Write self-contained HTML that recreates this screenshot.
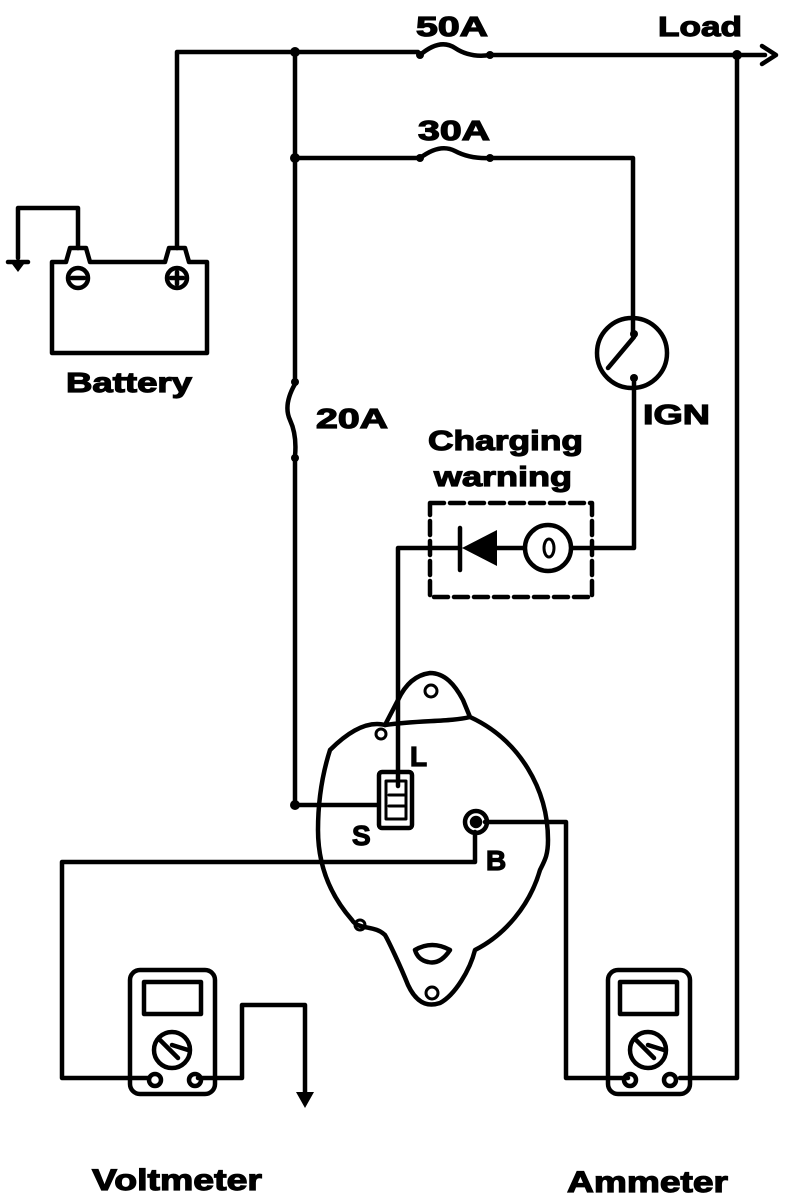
<!DOCTYPE html>
<html><head><meta charset="utf-8"><style>
html,body{margin:0;padding:0;background:#fff;}
svg{display:block;}
text{font-family:"Liberation Sans",sans-serif;font-weight:bold;fill:#000;stroke:#000;stroke-width:1.2;}
</style></head><body>
<svg width="800" height="1200" viewBox="0 0 800 1200" xmlns="http://www.w3.org/2000/svg">
<g fill="none" stroke="#000" stroke-width="4.5" stroke-linejoin="round" stroke-linecap="round">
<path d="M177 248 V52 H418"/>
<path d="M420 55 Q440 38 455 48 T490 55"/>
<path d="M492 55 H765"/>
<path d="M762 46 L776 55 L762 64"/>
<path d="M295 52 V380"/>
<path d="M295 158 H418"/>
<path d="M420 158 Q440 143 455 151 T490 158"/>
<path d="M492 158 H633 V332"/>
<path d="M295 384 Q283 405 290 420 T295 456"/>
<path d="M295 460 V805 H378"/>
<circle cx="632" cy="353" r="35"/>
<path d="M634 337 L608 368"/>
<path d="M634 382 V548 H572"/>
<rect x="430" y="503" width="162" height="94" stroke-dasharray="14 6"/>
<circle cx="548" cy="548" r="23"/>
<ellipse cx="549" cy="548" rx="5" ry="9" stroke-width="3"/>
<path d="M524 548 H497"/>
<path d="M460 528 V570"/>
<path d="M460 548 H398 V786"/>
<path d="M737 55 V1078 H680"/>
<path d="M485 822 H566 V1078 H628"/>
<path d="M475 832 V862 H62 V1078 H148"/>
<path d="M198 1078 H242 V1005 H305 V1092"/>
<path d="M52 353 V262 H66 L70 248 H86 L90 262 H165 L169 248 H185 L189 262 H207 V353 Z"/>
<path d="M78 248 V208 H18 V258"/>
<circle cx="78" cy="278" r="10"/>
<path d="M72 278 H84"/>
<circle cx="177" cy="278" r="10"/>
<path d="M171 278 H183 M177 272 V284"/>
<path d="M8 262 H28"/>
<path d="M330 750 C345 735 365 720 385 725 L398 700 C405 685 415 675 430 673 C445 673 455 685 463 700 L470 717 C520 740 548 790 548 840 C548 855 545 860 540 870 C530 905 505 935 475 950 C470 970 455 995 440 1003 C425 1008 415 1000 408 985 C400 965 388 940 385 935 C375 925 358 930 352 920 C330 895 318 865 318 830 C318 800 322 775 330 750 Z"/>
<path d="M385 725 C420 720 450 722 470 717"/>
<circle cx="431" cy="691" r="6" stroke-width="3"/>
<circle cx="381" cy="734" r="5" stroke-width="3"/>
<circle cx="360" cy="925" r="5" stroke-width="3"/>
<circle cx="432" cy="993" r="6" stroke-width="3"/>
<path d="M415 950 Q432 940 450 950 Q440 965 428 962 Q418 960 415 950 Z"/>
<rect x="379" y="772" width="33" height="56" rx="3"/>
<rect x="386" y="781" width="20" height="38" stroke-width="3"/>
<path d="M389 795 H405 M389 806 H405" stroke-width="3"/>
<circle cx="476" cy="822" r="11"/>
<circle cx="476" cy="822" r="4" fill="#000"/>
<rect x="130" y="970" width="85" height="124" rx="10"/>
<rect x="144" y="982" width="57" height="32"/>
<circle cx="172" cy="1050" r="18"/>
<path d="M160 1040 L178 1058 M172 1045 L188 1050"/>
<circle cx="155" cy="1080" r="6"/>
<circle cx="195" cy="1080" r="6"/>
<rect x="608" y="970" width="82" height="124" rx="10"/>
<rect x="620" y="982" width="57" height="32"/>
<circle cx="648" cy="1050" r="18"/>
<path d="M636 1040 L654 1058 M648 1045 L664 1050"/>
<circle cx="630" cy="1080" r="6"/>
<circle cx="670" cy="1080" r="6"/>
</g>
<g fill="#000">
<circle cx="295" cy="52" r="5"/>
<circle cx="295" cy="158" r="5"/>
<circle cx="295" cy="805" r="5"/>
<circle cx="737" cy="55" r="5"/>
<circle cx="420" cy="55" r="4"/><circle cx="490" cy="55" r="4"/>
<circle cx="420" cy="158" r="4"/><circle cx="490" cy="158" r="4"/>
<circle cx="295" cy="382" r="4"/><circle cx="295" cy="458" r="4"/>
<circle cx="634" cy="334" r="4"/><circle cx="634" cy="378" r="4"/>
<path d="M462 548 L497 530 L497 566 Z"/>
<path d="M296 1092 L314 1092 L305 1108 Z"/>
<path d="M12 264 H24 L18 272 Z"/>
</g>
<text x="416" y="36" font-size="28" textLength="72" lengthAdjust="spacingAndGlyphs">50A</text>
<text x="658" y="36" font-size="28" textLength="84" lengthAdjust="spacingAndGlyphs">Load</text>
<text x="418" y="140" font-size="28" textLength="72" lengthAdjust="spacingAndGlyphs">30A</text>
<text x="66" y="392" font-size="28" textLength="126" lengthAdjust="spacingAndGlyphs">Battery</text>
<text x="316" y="428" font-size="28" textLength="72" lengthAdjust="spacingAndGlyphs">20A</text>
<text x="643" y="424" font-size="28" textLength="67" lengthAdjust="spacingAndGlyphs">IGN</text>
<text x="428" y="450" font-size="28" textLength="155" lengthAdjust="spacingAndGlyphs">Charging</text>
<text x="434" y="486" font-size="28" textLength="138" lengthAdjust="spacingAndGlyphs">warning</text>
<text x="410" y="766" font-size="28">L</text>
<text x="352" y="845" font-size="28">S</text>
<text x="486" y="870" font-size="28">B</text>
<text x="92" y="1190" font-size="30" textLength="170" lengthAdjust="spacingAndGlyphs">Voltmeter</text>
<text x="567" y="1192" font-size="30" textLength="161" lengthAdjust="spacingAndGlyphs">Ammeter</text>
</svg>
</body></html>
